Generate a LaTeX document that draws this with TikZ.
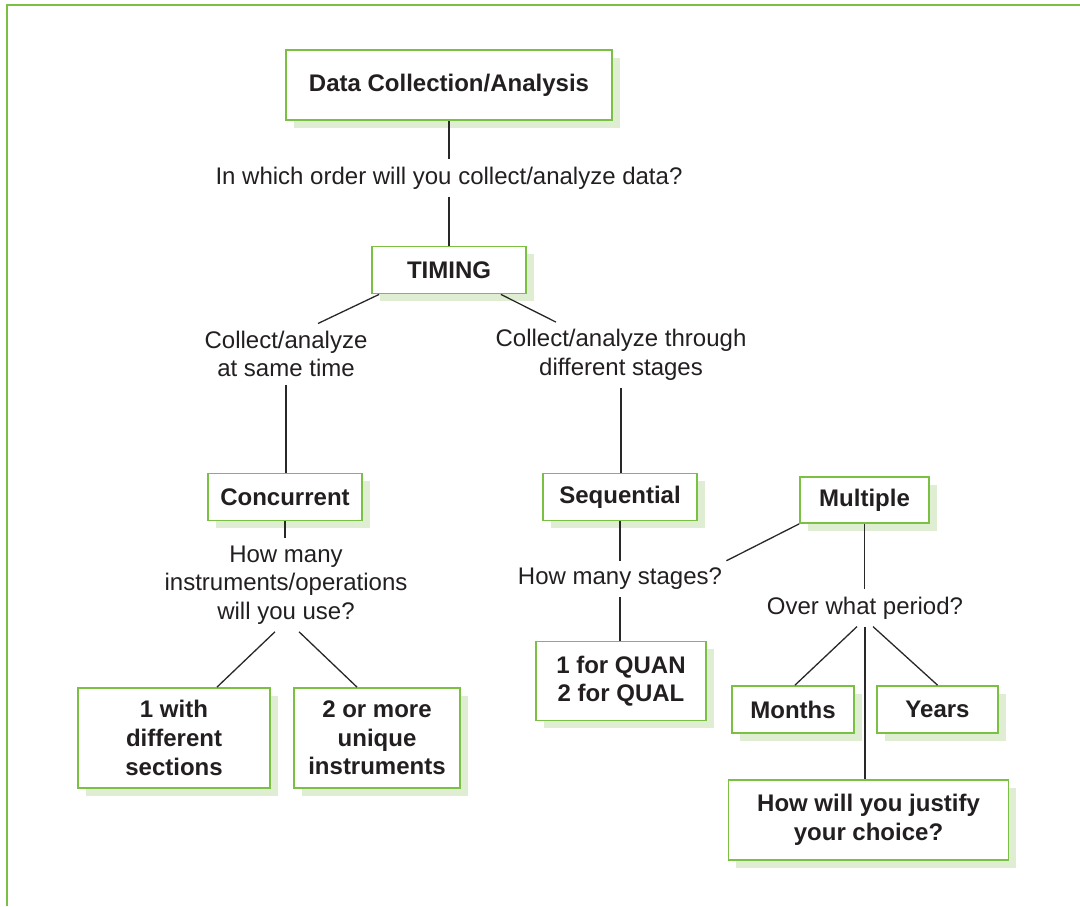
\documentclass[tikz,border=0pt]{standalone}
\usepackage{fontspec}
\setmainfont{Liberation Sans}
\usetikzlibrary{shadows}
\definecolor{boxgreen}{RGB}{122,193,67}
\definecolor{shadowgreen}{RGB}{223,238,210}
\definecolor{ink}{RGB}{35,31,32}
\definecolor{wirecol}{RGB}{40,40,40}

\begin{document}
\begin{tikzpicture}[x=0.5pt,y=-0.5pt,
  box/.style={draw=boxgreen, line width=0.9pt, fill=white, inner sep=0pt,
    align=center, text=ink, font=\fontsize{12}{14.3}\selectfont\bfseries,
    drop shadow={shadow xshift=3.8pt, shadow yshift=-3.8pt, fill=shadowgreen, opacity=1}},
  lbl/.style={align=center, text=ink, font=\fontsize{12}{14.3}\selectfont,
    inner xsep=2pt, inner ysep=3.5pt},
  wire/.style={draw=wirecol, line width=0.65pt},
  frame/.style={draw=boxgreen, line width=1pt}]

\useasboundingbox (0,0) rectangle (1080,906);
\draw[frame] (1080,5) -- (7,5) -- (7,906);

% top of the tree
\node[box, minimum width=163pt, minimum height=35pt] (data) at (449,85) {Data Collection/Analysis};
\node[lbl] (q1) at (449,178) {In which order will you collect/analyze data?};
\node[box, minimum width=77pt, minimum height=23.5pt] (timing) at (449,270) {TIMING};

\node[lbl] (same) at (286,354) {Collect/analyze\\at same time};
\node[lbl] (stages) at (621,355) {Collect/analyze through\\different stages};

% concurrent branch
\node[box, minimum width=77pt, minimum height=23.5pt] (conc) at (285,497) {Concurrent};
\node[lbl] (q2) at (286,585) {How many\\instruments/operations\\will you use?};
\node[box, minimum width=96pt, minimum height=50pt] (one) at (174,738) {1 with\\different\\sections};
\node[box, minimum width=83pt, minimum height=50pt] (two) at (377,738) {2 or more\\unique\\instruments};

% sequential branch
\node[box, minimum width=77pt, minimum height=23.5pt] (seq) at (620,497) {Sequential};
\node[lbl] (q3) at (620,579) {How many stages?};
\node[box, minimum width=85pt, minimum height=39.5pt] (quan) at (621,681) {1 for QUAN\\2 for QUAL};

% multiple stages
\node[box, minimum width=64.5pt, minimum height=23pt] (mult) at (864.5,500) {Multiple};
\node[lbl] (q4) at (865,608) {Over what period?};
\node[box, minimum width=61pt, minimum height=23.5pt] (months) at (793,709.5) {Months};
\node[box, minimum width=60.5pt, minimum height=23.5pt] (years) at (937.5,709.5) {Years};
\node[box, minimum width=140pt, minimum height=40pt] (justify) at (868.5,820) {How will you justify\\your choice?};

% connectors
\draw[wire] (data.south) -- (q1.north);
\draw[wire] (q1.south) -- (timing.north);
\draw[wire] ([xshift=4pt]timing.south west) -- ([xshift=16pt]same.north);
\draw[wire] ([xshift=-13pt]timing.south east) -- ([xshift=-32.5pt]stages.north);
\draw[wire] (same.south) -- (same.south |- conc.north);
\draw[wire] (stages.south) -- (stages.south |- seq.north);

\draw[wire] (conc.south) -- (conc.south |- q2.north);
\draw[wire] ([xshift=-5.5pt]q2.south) -- ([xshift=21.5pt]one.north);
\draw[wire] ([xshift=6.5pt]q2.south) -- ([xshift=-10pt]two.north);

\draw[wire] (seq.south) -- (seq.south |- q3.north);
\draw[wire] (q3.south) -- (q3.south |- quan.north);
\draw[wire] (q3.north east) -- (mult.south west);

\draw[wire] (mult.south) -- (mult.south |- q4.north);
\draw[wire] ([xshift=-4pt]q4.south) -- ([xshift=1pt]months.north);
\draw[wire] ([xshift=4pt]q4.south) -- (years.north);
\draw[wire] (q4.south) -- (q4.south |- justify.north);
\end{tikzpicture}
\end{document}
